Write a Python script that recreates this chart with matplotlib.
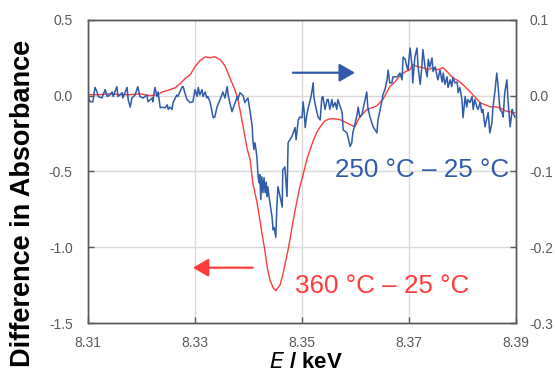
import matplotlib
matplotlib.use("Agg")
import matplotlib.pyplot as plt

plt.rcParams['font.family'] = ['Liberation Sans', 'DejaVu Sans']

# 360 C - 25 C (left axis)
e_red = [8.3100, 8.3122, 8.3141, 8.3160, 8.3179, 8.3197, 8.3216, 8.3229, 8.3240, 8.3253,
         8.3263, 8.3272, 8.3281, 8.3291, 8.3300, 8.3309, 8.3319, 8.3328, 8.3337, 8.3347,
         8.3356, 8.3365, 8.3373, 8.3379, 8.3384, 8.3390, 8.3397, 8.3403, 8.3408, 8.3416,
         8.3425, 8.3431, 8.3435, 8.3440, 8.3446, 8.3451, 8.3455, 8.3459, 8.3464, 8.3468,
         8.3474, 8.3478, 8.3483, 8.3491, 8.3496, 8.3502, 8.3509, 8.3515, 8.3521, 8.3528,
         8.3534, 8.3543, 8.3552, 8.3562, 8.3571, 8.3580, 8.3590, 8.3599, 8.3605, 8.3612,
         8.3621, 8.3631, 8.3640, 8.3651, 8.3659, 8.3664, 8.3674, 8.3683, 8.3693, 8.3702,
         8.3707, 8.3717, 8.3726, 8.3736, 8.3745, 8.3754, 8.3764, 8.3773, 8.3782, 8.3792,
         8.3801, 8.3814, 8.3823, 8.3833, 8.3842, 8.3851, 8.3861, 8.3870, 8.3879, 8.3889,
         8.3898]
d_red = [0.007, 0.007, 0.013, 0.007, 0.007, 0.013, 0.000, 0.007, 0.026, 0.040,
         0.053, 0.079, 0.112, 0.139, 0.191, 0.231, 0.257, 0.251, 0.257, 0.238,
         0.198, 0.119, 0.053, -0.007, -0.092, -0.205, -0.343, -0.422, -0.574, -0.706,
         -0.904, -1.030, -1.135, -1.215, -1.267, -1.287, -1.267, -1.248, -1.182, -1.116,
         -1.017, -0.937, -0.832, -0.686, -0.601, -0.521, -0.422, -0.356, -0.297, -0.238,
         -0.205, -0.165, -0.152, -0.152, -0.158, -0.172, -0.191, -0.205, -0.158, -0.125,
         -0.092, -0.079, -0.066, -0.026, 0.026, 0.059, 0.092, 0.132, 0.158, 0.172,
         0.205, 0.191, 0.185, 0.172, 0.185, 0.172, 0.185, 0.152, 0.119, 0.099,
         0.073, 0.026, -0.007, -0.046, -0.059, -0.073, -0.073, -0.079, -0.099, -0.106,
         -0.112]

# 250 C - 25 C (right axis)
e_blue = [8.3100, 8.3104, 8.3109, 8.3113, 8.3117, 8.3119, 8.3126, 8.3132, 8.3136, 8.3141,
          8.3145, 8.3147, 8.3154, 8.3156, 8.3164, 8.3165, 8.3173, 8.3175, 8.3179, 8.3182,
          8.3188, 8.3193, 8.3197, 8.3203, 8.3210, 8.3212, 8.3220, 8.3221, 8.3225, 8.3229,
          8.3231, 8.3235, 8.3238, 8.3244, 8.3248, 8.3250, 8.3253, 8.3257, 8.3259, 8.3266,
          8.3268, 8.3276, 8.3278, 8.3281, 8.3285, 8.3291, 8.3296, 8.3300, 8.3304, 8.3306,
          8.3309, 8.3313, 8.3315, 8.3319, 8.3322, 8.3324, 8.3328, 8.3332, 8.3334, 8.3337,
          8.3341, 8.3347, 8.3350, 8.3352, 8.3356, 8.3360, 8.3362, 8.3365, 8.3369, 8.3375,
          8.3379, 8.3380, 8.3384, 8.3390, 8.3393, 8.3397, 8.3399, 8.3403, 8.3407, 8.3408,
          8.3410, 8.3412, 8.3414, 8.3416, 8.3418, 8.3420, 8.3421, 8.3423, 8.3425, 8.3427,
          8.3429, 8.3431, 8.3433, 8.3435, 8.3436, 8.3440, 8.3444, 8.3446, 8.3448, 8.3451,
          8.3453, 8.3455, 8.3459, 8.3463, 8.3464, 8.3468, 8.3472, 8.3474, 8.3481, 8.3487,
          8.3489, 8.3493, 8.3496, 8.3500, 8.3502, 8.3504, 8.3506, 8.3509, 8.3511, 8.3517,
          8.3521, 8.3522, 8.3526, 8.3530, 8.3534, 8.3537, 8.3539, 8.3543, 8.3547, 8.3549,
          8.3552, 8.3556, 8.3558, 8.3562, 8.3565, 8.3567, 8.3575, 8.3577, 8.3584, 8.3586,
          8.3590, 8.3593, 8.3595, 8.3603, 8.3605, 8.3608, 8.3612, 8.3618, 8.3621, 8.3623,
          8.3627, 8.3633, 8.3640, 8.3642, 8.3650, 8.3651, 8.3655, 8.3659, 8.3661, 8.3664,
          8.3668, 8.3670, 8.3678, 8.3683, 8.3687, 8.3689, 8.3693, 8.3696, 8.3698, 8.3702,
          8.3706, 8.3707, 8.3711, 8.3715, 8.3717, 8.3721, 8.3724, 8.3726, 8.3730, 8.3734,
          8.3736, 8.3739, 8.3743, 8.3745, 8.3749, 8.3752, 8.3754, 8.3758, 8.3762, 8.3764,
          8.3767, 8.3771, 8.3773, 8.3777, 8.3780, 8.3782, 8.3786, 8.3790, 8.3792, 8.3795,
          8.3799, 8.3801, 8.3805, 8.3808, 8.3810, 8.3814, 8.3818, 8.3820, 8.3823, 8.3827,
          8.3829, 8.3833, 8.3836, 8.3838, 8.3842, 8.3846, 8.3848, 8.3851, 8.3855, 8.3857,
          8.3861, 8.3864, 8.3866, 8.3870, 8.3874, 8.3876, 8.3879, 8.3883, 8.3885, 8.3889,
          8.3893, 8.3894, 8.3898]
d_blue = [-0.001, -0.008, -0.008, 0.011, 0.005, -0.001, -0.003, 0.008, -0.001, 0.001,
          0.005, -0.001, 0.012, -0.001, 0.004, -0.003, 0.011, -0.005, -0.015, -0.003,
          0.001, 0.012, -0.001, -0.003, 0.001, -0.008, -0.003, -0.008, 0.011, -0.001,
          0.005, -0.016, -0.015, -0.016, -0.012, -0.018, -0.015, -0.018, -0.009, 0.001,
          -0.001, 0.012, 0.012, 0.004, -0.005, -0.009, -0.008, 0.008, -0.001, 0.011,
          0.001, 0.008, -0.001, 0.005, -0.003, -0.001, -0.008, -0.022, -0.029, -0.028,
          -0.015, -0.005, 0.001, 0.005, -0.003, 0.012, 0.001, -0.009, -0.021, -0.009,
          -0.001, -0.005, 0.004, 0.000, -0.009, -0.005, -0.003, -0.021, -0.041, -0.058,
          -0.071, -0.062, -0.071, -0.084, -0.107, -0.115, -0.104, -0.137, -0.107, -0.128,
          -0.108, -0.128, -0.114, -0.133, -0.120, -0.141, -0.160, -0.177, -0.174, -0.187,
          -0.147, -0.120, -0.133, -0.147, -0.098, -0.094, -0.133, -0.062, -0.054, -0.042,
          -0.058, -0.032, -0.028, -0.029, -0.008, -0.021, -0.042, -0.025, -0.018, -0.001,
          0.017, -0.001, -0.016, -0.028, -0.032, -0.003, -0.001, -0.018, -0.005, -0.005,
          -0.018, -0.005, -0.015, -0.009, -0.018, -0.005, -0.022, -0.045, -0.049, -0.055,
          -0.067, -0.062, -0.049, -0.025, -0.015, -0.028, -0.025, -0.005, 0.005, -0.015,
          -0.028, -0.041, -0.049, -0.032, -0.005, 0.001, 0.008, 0.021, 0.034, 0.017,
          0.017, 0.025, 0.025, 0.030, 0.021, 0.051, 0.048, 0.038, 0.034, 0.063,
          0.038, 0.017, 0.051, 0.063, 0.038, 0.015, 0.038, 0.061, 0.038, 0.025,
          0.048, 0.038, 0.050, 0.032, 0.038, 0.028, 0.021, 0.034, 0.018, 0.030,
          0.015, 0.025, 0.011, 0.021, 0.012, 0.024, 0.017, 0.018, 0.004, 0.011,
          -0.005, -0.029, -0.001, -0.015, -0.005, -0.009, -0.001, -0.018, -0.005, -0.015,
          -0.018, -0.009, -0.022, -0.018, -0.041, -0.028, -0.022, -0.049, -0.036, -0.015,
          0.008, 0.030, 0.017, -0.018, -0.022, -0.028, 0.004, 0.021, -0.005, -0.041,
          -0.018, -0.022, -0.028]

x_ticks = [8.31, 8.33, 8.35, 8.37, 8.39]
left_ticks = [0.5, 0.0, -0.5, -1.0, -1.5]
right_ticks = [0.1, 0.0, -0.1, -0.2, -0.3]

RED = '#FF3B3B'
BLUE = '#2F5BAA'
GREY = '#595959'

fig = plt.figure(figsize=(5.55, 3.78), dpi=100)
ax = fig.add_axes([0.1586, 0.1455, 0.7711, 0.8016])
ax2 = ax.twinx()

ax.plot(e_red, d_red, color=RED, lw=1.0)
ax2.plot(e_blue, d_blue, color=BLUE, lw=1.1)

ax.set_xlim(8.31, 8.39)
ax.set_ylim(-1.5, 0.5)
ax2.set_ylim(-0.3, 0.1)
ax.set_xticks(x_ticks)
ax.set_xticklabels(['%.2f' % v for v in x_ticks])
ax.set_yticks(left_ticks)
ax.set_yticklabels(['%.1f' % v for v in left_ticks])
ax2.set_yticks(right_ticks)
ax2.set_yticklabels(['%.1f' % v for v in right_ticks])

ax.grid(True, color='#D9D9D9', lw=1.0)
ax.set_axisbelow(True)
for a in (ax, ax2):
    for s in a.spines.values():
        s.set_color(GREY)
        s.set_linewidth(1.0)
ax.tick_params(axis='both', direction='in', length=4, width=1, color=GREY,
               labelcolor=GREY, labelsize=10)
ax.tick_params(axis='y', pad=11)
ax.tick_params(axis='x', pad=9)
ax2.tick_params(axis='y', direction='in', length=4, width=1, color=GREY,
                labelcolor=GREY, labelsize=10, pad=10)

fig.text(0.041, 0.462, 'Difference in Absorbance', rotation=90, ha='center',
         va='center', fontsize=19.5, fontweight='bold')
fig.text(0.552, 0.04, r'$\mathbf{\mathit{E}}$ / keV', ha='center', va='center',
         fontsize=16, fontweight='bold')

# arrows pointing to the matching axis
ax.annotate('', xy=(8.3599, 0.152), xytext=(8.3483, 0.152),
            arrowprops=dict(arrowstyle='-|>,head_length=0.95,head_width=0.55',
                            mutation_scale=10, color=BLUE, lw=1.6,
                            shrinkA=0, shrinkB=0))
ax.annotate('', xy=(8.3296, -1.135), xytext=(8.3408, -1.135),
            arrowprops=dict(arrowstyle='-|>,head_length=0.95,head_width=0.55',
                            mutation_scale=10, color=RED, lw=1.6,
                            shrinkA=0, shrinkB=0))

ax.text(8.3562, -0.535, '250 °C – 25 °C', color=BLUE, fontsize=18.7,
        ha='left', va='baseline')
ax.text(8.3487, -1.300, '360 °C – 25 °C', color=RED, fontsize=18.7,
        ha='left', va='baseline')

fig.savefig('out.png', dpi=100)
